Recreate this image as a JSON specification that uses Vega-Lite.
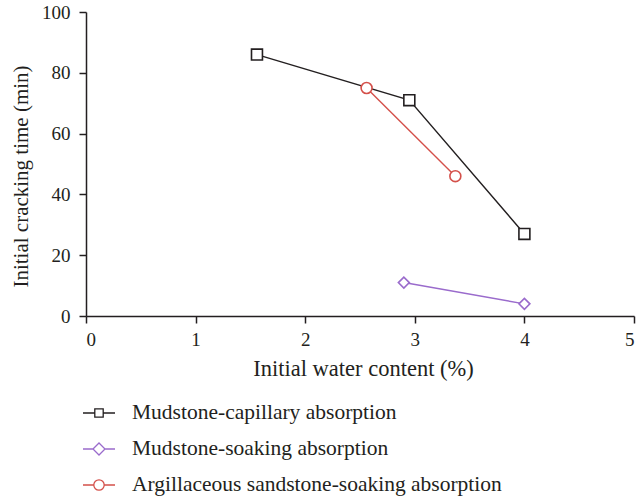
{
  "$schema": "https://vega.github.io/schema/vega-lite/v6.json",
  "autosize": "none",
  "width": 548,
  "height": 304,
  "padding": {"left": 86, "top": 12, "right": 3, "bottom": 182},
  "background": "white",
  "config": {
    "view": {"stroke": null},
    "font": "Liberation Serif",
    "axis": {
      "grid": false,
      "domainColor": "#231f20",
      "domainWidth": 1.5,
      "tickColor": "#231f20",
      "tickWidth": 1.5,
      "tickSize": 7,
      "labelFont": "Liberation Serif",
      "labelFontSize": 19,
      "labelColor": "#231f20",
      "titleFont": "Liberation Serif",
      "titleFontWeight": "normal",
      "titleColor": "#231f20"
    },
    "legend": {
      "labelFont": "Liberation Serif",
      "labelFontSize": 21.5,
      "labelColor": "#231f20"
    }
  },
  "data": {
    "values": [
      {"series": "Mudstone-capillary absorption", "w": 1.56, "t": 86},
      {"series": "Mudstone-capillary absorption", "w": 2.95, "t": 71},
      {"series": "Mudstone-capillary absorption", "w": 4.0, "t": 27},
      {"series": "Mudstone-soaking absorption", "w": 2.9, "t": 11},
      {"series": "Mudstone-soaking absorption", "w": 4.0, "t": 4},
      {"series": "Argillaceous sandstone-soaking absorption", "w": 2.56, "t": 75},
      {"series": "Argillaceous sandstone-soaking absorption", "w": 3.37, "t": 46}
    ]
  },
  "encoding": {
    "x": {
      "field": "w",
      "type": "quantitative",
      "scale": {"domain": [0, 5], "nice": false},
      "axis": {"values": [0, 1, 2, 3, 4, 5], "title": "Initial water content (%)", "labelPadding": 7, "titlePadding": 8, "titleFontSize": 22.5, "titleX": 277}
    },
    "y": {
      "field": "t",
      "type": "quantitative",
      "scale": {"domain": [0, 100], "nice": false},
      "axis": {"values": [0, 20, 40, 60, 80, 100], "title": "Initial cracking time (min)", "labelPadding": 9, "titlePadding": 10, "titleFontSize": 21, "titleY": 164}
    },
    "stroke": {
      "field": "series",
      "type": "nominal",
      "scale": {
        "domain": ["Mudstone-capillary absorption", "Mudstone-soaking absorption", "Argillaceous sandstone-soaking absorption"],
        "range": ["#231f20", "#9a6bcc", "#d4504a"]
      },
      "legend": null
    }
  },
  "layer": [
    {
      "mark": {"type": "line", "strokeWidth": 1.4}
    },
    {
      "mark": {"type": "point", "filled": true, "fill": "white", "size": 120, "strokeWidth": 1.6, "opacity": 1},
      "encoding": {
        "shape": {
          "field": "series",
          "type": "nominal",
          "legend": null,
          "scale": {
            "domain": ["Mudstone-capillary absorption", "Mudstone-soaking absorption", "Argillaceous sandstone-soaking absorption"],
            "range": ["square", "diamond", "circle"]
          }
        }
      }
    },
    {
      "transform": [{"filter": "false"}],
      "mark": {"type": "point", "filled": true, "fill": "white", "size": 400, "strokeWidth": 1.3, "opacity": 1},
      "encoding": {
        "stroke": {
          "field": "series",
          "type": "nominal",
          "legend": {
            "title": null,
            "orient": "none",
            "legendX": 2,
            "legendY": 390,
            "direction": "vertical",
            "symbolSize": 400,
            "symbolStrokeWidth": 1.3,
            "symbolFillColor": "white",
            "labelOffset": 22,
            "rowPadding": 14,
            "padding": 0,
            "labelLimit": 500
          }
        },
        "shape": {
          "field": "series",
          "type": "nominal",
          "scale": {
            "domain": ["Mudstone-capillary absorption", "Mudstone-soaking absorption", "Argillaceous sandstone-soaking absorption"],
            "range": [
              "M-1.6,0H-0.42M0.42,0H1.6M-0.42,-0.42H0.42V0.42H-0.42Z",
              "M-1.6,0H-0.6M0.6,0H1.6M-0.6,0L0,-0.6L0.6,0L0,0.6Z",
              "M-1.6,0H-0.52M0.52,0H1.6M0.52,0A0.52,0.52,0,1,1,-0.52,0A0.52,0.52,0,1,1,0.52,0Z"
            ]
          },
          "legend": {
            "title": null,
            "orient": "none",
            "legendX": 2,
            "legendY": 390,
            "direction": "vertical",
            "symbolSize": 400,
            "symbolStrokeWidth": 1.3,
            "symbolFillColor": "white",
            "labelOffset": 22,
            "rowPadding": 14,
            "padding": 0,
            "labelLimit": 500
          }
        }
      }
    }
  ],
  "resolve": {"scale": {"shape": "independent"}, "legend": {"stroke": "independent", "shape": "independent"}}
}
